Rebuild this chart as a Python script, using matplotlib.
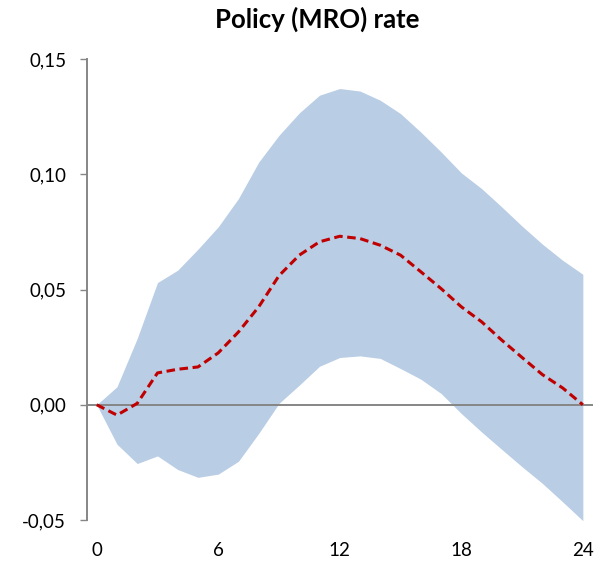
import matplotlib
matplotlib.use("Agg")
import matplotlib.pyplot as plt
from matplotlib.ticker import FuncFormatter

# Impulse response of the policy (MRO) rate, with confidence band
horizon = list(range(25))
median = [0.0, -0.0045, 0.0006, 0.0138, 0.0154, 0.0164, 0.0225, 0.0316, 0.0425,
          0.0560, 0.0649, 0.0707, 0.0731, 0.0721, 0.0692, 0.0649, 0.0577, 0.0504,
          0.0425, 0.0360, 0.0280, 0.0205, 0.0131, 0.0073, 0.0]
upper = [0.0, 0.0078, 0.0288, 0.0530, 0.0584, 0.0675, 0.0772, 0.0895, 0.1053,
         0.1169, 0.1266, 0.1343, 0.1372, 0.1361, 0.1321, 0.1263, 0.1183, 0.1097,
         0.1006, 0.0938, 0.0858, 0.0775, 0.0697, 0.0627, 0.0566]
lower = [0.0, -0.0171, -0.0255, -0.0222, -0.0281, -0.0315, -0.0301, -0.0245, -0.0124,
         0.0006, 0.0085, 0.0167, 0.0205, 0.0212, 0.0201, 0.0157, 0.0111, 0.0049,
         -0.0038, -0.0118, -0.0194, -0.0269, -0.0341, -0.0421, -0.0503]
x_ticks = [0, 6, 12, 18, 24]
y_ticks = [-0.05, 0.0, 0.05, 0.10, 0.15]
title = "Policy (MRO) rate"

plt.rcParams['font.family'] = ['Lato', 'DejaVu Sans']

fig = plt.figure(figsize=(6.1, 5.61), dpi=100)
ax = fig.add_axes([0.1426, 0.0731, 0.8295, 0.8217])

ax.fill_between(horizon, lower, upper, color="#b9cde5", linewidth=0, zorder=1)
ax.axhline(0, color="#868686", linewidth=1.4, zorder=2)
ax.plot(horizon, median, color="#c00000", linewidth=2.2,
        linestyle=(0, (2.8, 1.5)), zorder=3)

ax.set_xlim(-0.48, 24.5)
ax.set_ylim(-0.05, 0.15)
ax.set_xticks(x_ticks)
ax.set_yticks(y_ticks)
ax.yaxis.set_major_formatter(FuncFormatter(lambda v, p: f"{v:.2f}".replace(".", ",").replace("-0,00", "0,00")))

for side in ("top", "right", "bottom"):
    ax.spines[side].set_visible(False)
ax.spines["left"].set_color("#868686")
ax.spines["left"].set_linewidth(1.4)

ax.tick_params(axis="y", direction="out", length=5, width=1.0, color="#868686",
               labelsize=13.5, pad=10, labelcolor="#000000")
ax.tick_params(axis="x", length=0, labelsize=13.5, pad=16, labelcolor="#000000")

fig.text(0.52, 0.965, title, fontsize=18.5, fontweight="bold",
         ha="center", va="center")

fig.savefig("out.png", dpi=100)
